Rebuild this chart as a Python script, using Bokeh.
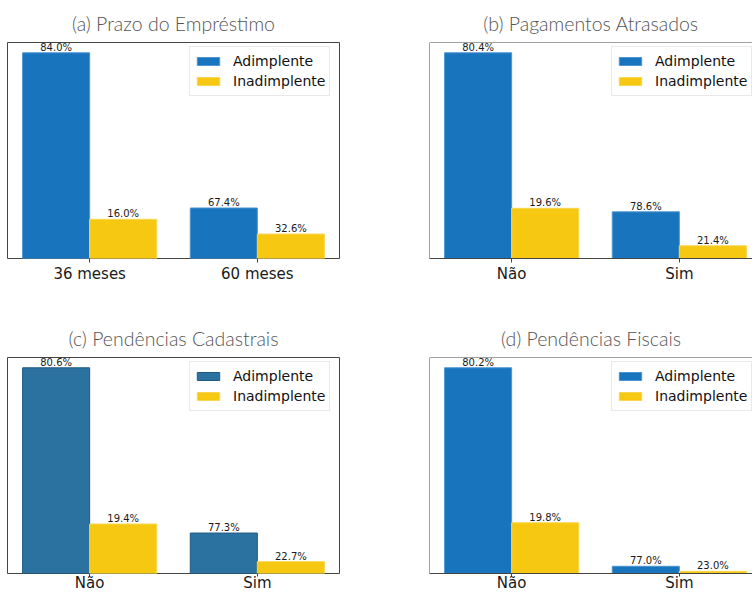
from bokeh.plotting import figure
from bokeh.layouts import column, row
from bokeh.models import Range1d, FixedTicker, Span, Legend, LegendItem, ColumnDataSource
from bokeh.core.properties import value
from bokeh.embed import file_html
from bokeh.resources import INLINE

# Loan counts by status for each attribute
series = ["Adimplente", "Inadimplente"]

prazo_groups = ["36 meses", "60 meses"]
prazo_adimplente = [4200, 1031]
prazo_inadimplente = [800, 499]

atraso_groups = ["Não", "Sim"]
atraso_adimplente = [4261, 967]
atraso_inadimplente = [1039, 263]

cadastro_groups = ["Não", "Sim"]
cadastro_adimplente = [4368, 859]
cadastro_inadimplente = [1051, 252]

fiscal_groups = ["Não", "Sim"]
fiscal_adimplente = [5053, 177]
fiscal_inadimplente = [1247, 53]

titles = [
    "(a) Prazo do Empréstimo",
    "(b) Pagamentos Atrasados",
    "(c) Pendências Cadastrais",
    "(d) Pendências Fiscais",
]

BLUE = "#1874bd"
BLUE_EDGE = "#4d95d3"
STEEL = "#2c72a1"
STEEL_EDGE = "#1f5a85"
YELLOW = "#f6c812"
YELLOW_EDGE = "#f8d650"
SPINE = "#444444"

PANEL_W = 376
FRAME_H = 216
BAR_W = 0.4
X_START = -0.49
UNITS_PER_PX = 1.98 / 332


def panel(title, groups, adim, inad, blue, blue_edge, left_col, height, tick_out, standoff):
    border_l, border_r = (7, 37) if left_col else (53, 0)
    frame_w = PANEL_W - border_l - border_r
    x_end = X_START + frame_w * UNITS_PER_PX
    ymax = 1.05 * max(adim + inad)

    p = figure(width=PANEL_W, height=height, output_backend="svg",
               toolbar_location=None, tools="",
               x_range=Range1d(X_START, x_end), y_range=Range1d(0, ymax),
               min_border_left=border_l, min_border_right=border_r,
               min_border_top=42, min_border_bottom=height - 42 - FRAME_H)
    p.title.text = title
    p.title.align = "center"
    p.title.text_font = "Lato Light"
    p.title.text_font_style = "normal"
    p.title.text_font_size = "19.5px"
    p.title.text_color = "#555555"
    p.title.standoff = 16

    p.grid.visible = False
    p.background_fill_color = "white"
    p.border_fill_color = "white"

    pos = list(range(len(groups)))
    totals = [a + b for a, b in zip(adim, inad)]
    xa = [x - BAR_W / 2 for x in pos]
    xi = [x + BAR_W / 2 for x in pos]

    ra = p.vbar(x=xa, top=adim, width=BAR_W, fill_color=blue, line_color=blue_edge, line_width=1)
    ri = p.vbar(x=xi, top=inad, width=BAR_W, fill_color=YELLOW, line_color=YELLOW_EDGE, line_width=1)

    # percentage of each group above its bar
    pct_a = ["{:.1f}%".format(100 * a / t) for a, t in zip(adim, totals)]
    pct_i = ["{:.1f}%".format(100 * b / t) for b, t in zip(inad, totals)]
    lab = ColumnDataSource(dict(x=xa + xi, y=adim + inad, t=pct_a + pct_i))
    p.text(x="x", y="y", text="t", source=lab, text_align="center",
           text_baseline="bottom", text_font=value("DejaVu Sans"),
           text_font_size="10px", text_color="#1a1a1a")

    p.yaxis.visible = False
    ax = p.xaxis[0]
    ax.ticker = FixedTicker(ticks=pos)
    ax.major_label_overrides = {i: g for i, g in enumerate(groups)}
    ax.major_label_text_font = "DejaVu Sans"
    ax.major_label_text_font_size = "15px"
    ax.major_label_text_color = "#1a1a1a"
    ax.major_label_standoff = standoff
    ax.major_tick_out = tick_out
    ax.major_tick_in = 0
    ax.major_tick_line_color = SPINE
    ax.minor_tick_line_color = None

    if left_col:
        p.outline_line_color = SPINE
        p.outline_line_width = 1
        p.outline_line_alpha = 1
        ax.axis_line_color = None
    else:
        p.outline_line_color = None
        ax.axis_line_color = SPINE
        p.add_layout(Span(location=X_START, dimension="height", line_color=SPINE, line_width=1))
        p.add_layout(Span(location=ymax, dimension="width", line_color=SPINE, line_width=1))

    legend = Legend(items=[LegendItem(label=series[0], renderers=[ra]),
                           LegendItem(label=series[1], renderers=[ri])],
                    location=(182, 162), orientation="vertical",
                    label_text_font="DejaVu Sans", label_text_font_size="14px",
                    label_text_color="#111111",
                    glyph_width=28, glyph_height=10, label_height=20,
                    label_standoff=11, padding=4, spacing=0, margin=0,
                    border_line_color="#d4d4d4", border_line_width=1,
                    background_fill_color="white", background_fill_alpha=0.8)
    p.add_layout(legend)
    return p


TOP_H = 315
BOT_H = 594 - TOP_H

pa = panel(titles[0], prazo_groups, prazo_adimplente, prazo_inadimplente, BLUE, BLUE_EDGE, True, TOP_H, 4, 2)
pb = panel(titles[1], atraso_groups, atraso_adimplente, atraso_inadimplente, BLUE, BLUE_EDGE, False, TOP_H, 4, 2)
# bottom row: tight label spacing so the category names fit above the page edge
pc = panel(titles[2], cadastro_groups, cadastro_adimplente, cadastro_inadimplente, STEEL, STEEL_EDGE, True, BOT_H, 3, -3)
pd = panel(titles[3], fiscal_groups, fiscal_adimplente, fiscal_inadimplente, BLUE, BLUE_EDGE, False, BOT_H, 3, -3)

layout = column(row(pa, pb, spacing=0), row(pc, pd, spacing=0), spacing=0)

open("out.html", "w").write(file_html(layout, INLINE))
